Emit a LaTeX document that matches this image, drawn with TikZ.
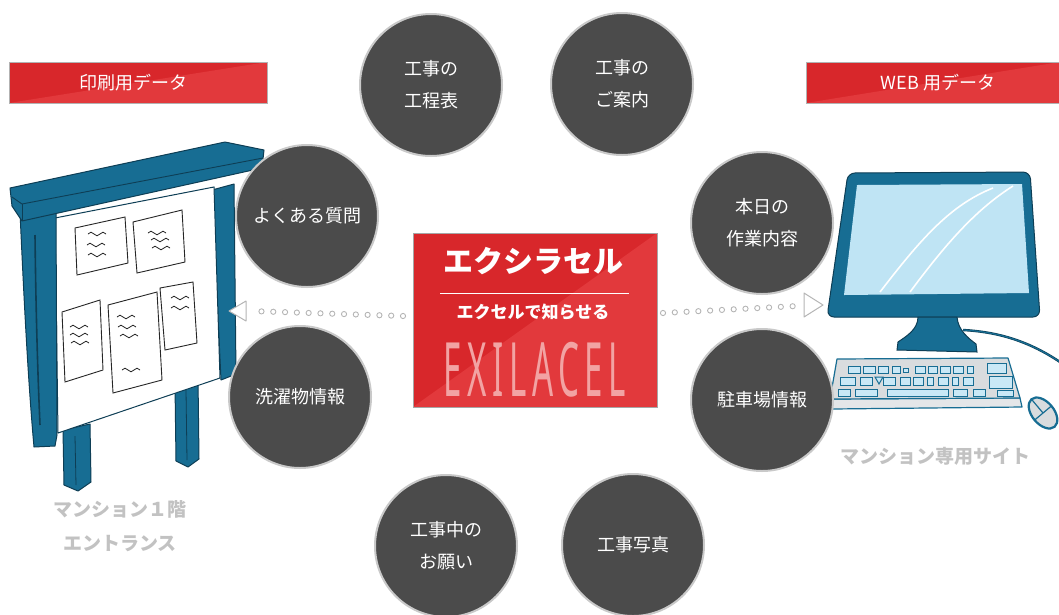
\documentclass[tikz,border=0pt]{standalone}
\usepackage{fontspec}
\newfontfamily\jp{Noto Sans CJK JP}
\newfontfamily\lat{Noto Sans}
\usetikzlibrary{calc,decorations.markings}
\definecolor{circ}{HTML}{4B4B4B}
\definecolor{ring}{HTML}{C9C9C9}
\definecolor{redA}{HTML}{D8272B}
\definecolor{redB}{HTML}{E2393C}
\definecolor{blue}{HTML}{176D93}
\definecolor{dkblue}{HTML}{0E3E55}
\definecolor{screen}{HTML}{BFE4F4}
\definecolor{keyc}{HTML}{C9E8F6}
\definecolor{kbd}{HTML}{D9DCDE}
\definecolor{graytxt}{HTML}{C2C2C2}
\definecolor{dotc}{HTML}{B5B5B5}
\definecolor{logo}{HTML}{F2A3A3}
\newcommand\squig[1]{\draw[ink] (#1) sin ++(3,-1.8) cos ++(3,1.8) sin ++(3,1.8) cos ++(3,-1.8) sin ++(3,-1.8) cos ++(3,1.8);}
\begin{document}
\begin{tikzpicture}[x=1pt,y=-1pt,
  bubble/.style={circle, fill=circ, draw=ring, line width=2pt, minimum size=142pt,
    inner sep=0pt, text=white, align=center, font=\jp\fontsize{18}{32}\selectfont},
  redfill/.style={fill=redA, path picture={\fill[redB] (path picture bounding box.south west)
    -- (path picture bounding box.north east) -- (path picture bounding box.south east) -- cycle;}},
  banner/.style={redfill, draw=black!30, line width=0.6pt, minimum height=41pt, inner sep=0pt,
    text=white, font=\jp\fontsize{18}{20}\selectfont},
  graylabel/.style={text=graytxt, font=\jp\bfseries\fontsize{19}{34}\selectfont, align=center},
  dotline/.style={decoration={markings, mark=between positions 0 and 1 step 11.8pt with
    {\draw[dotc, line width=0.9pt] (0,0) circle (2.6pt);}}, decorate},
  tip/.style={draw=dotc, fill=white, line width=1pt, line join=round},
  post/.style={fill=blue, draw=dkblue, line width=1pt, line join=round},
  paper/.style={fill=white, draw=black!85, line width=0.9pt},
  ink/.style={line width=0.8pt, draw=black!85},
  keyst/.style={fill=keyc, draw=blue, line width=1pt},
]
\useasboundingbox (0,0) rectangle (1059,614);

% ---------- banners ----------
\node[banner, minimum width=258pt] (bl) at (138,82.5) {};
\node[text=white, font=\jp\fontsize{18}{20}\selectfont] (blt) at (133,83) {印刷用データ};
\node[banner, minimum width=254pt] (br) at (933,82.5) {};
\node[text=white, font=\jp\fontsize{18}{20}\selectfont] (brt) at (938,83) {WEB 用データ};

% ---------- bulletin board ----------
\draw[post] (212,190) -- (234,184) -- (236,374) -- (221,380) -- cycle;
\draw[post] (175,384) -- (198,378) -- (199,459) -- (188,467) -- (176,461) -- cycle;
\draw[dkblue, line width=0.8pt] (186,390) -- (187,460);
\draw[post] (63,430) -- (90,424) -- (91,482) -- (78,491) -- (64,485) -- cycle;
\draw[dkblue, line width=0.8pt] (75,436) -- (76,485);
\draw[fill=white, draw=dkblue, line width=1pt] (55,218) -- (214,187) -- (220,378) -- (58,433) -- cycle;
\draw[post] (20,212) .. controls (24,300) and (28,380) .. (34,447) -- (55,446) -- (57,435) -- (56,208) -- cycle;
\draw[dkblue, line width=1.6pt] (35,235) .. controls (36,320) and (38,380) .. (40,425);
% roof slab
\draw[post] (10,188) -- (225,142) -- (264,150) -- (262,168) -- (22,221) -- (12,206) -- cycle;
\draw[dkblue, line width=0.9pt] (12,197) -- (22,204) -- (263,158);
\draw[dkblue, line width=0.9pt] (22,204) -- (22,221);
% papers
\draw[paper] (75,228) -- (125,217) -- (128,263) -- (77,275) -- cycle;
\draw[paper] (133,222) -- (182,210) -- (185,262) -- (137,273) -- cycle;
\draw[paper] (62,312) -- (100,300) -- (103,370) -- (65,382) -- cycle;
\draw[paper] (108,305) -- (157,292) -- (162,380) -- (113,393) -- cycle;
\draw[paper] (160,288) -- (193,282) -- (197,343) -- (165,350) -- cycle;
\squig{88,234} \squig{87,245} \squig{88,255}
\squig{148,233} \squig{151,240} \squig{152,248}
\squig{70,327} \squig{70,335} \squig{71,343}
\squig{117,317} \squig{118,327} \squig{120,336} \squig{122,370}
\squig{171,298} \squig{171,308}

% ---------- computer ----------
\draw[fill=blue, draw=dkblue, line width=1pt, rounded corners=7pt]
  (848,173) -- (1030,172) -- (1040,317) -- (827,317) -- cycle;
\fill[screen] (857,185) -- (1022,184) -- (1029,293) -- (844,295) -- cycle;
\draw[white, line width=1.6pt] (880,292) .. controls (920,240) and (950,205) .. (993,188);
\draw[white, line width=1.6pt] (910,292) .. controls (945,245) and (975,210) .. (1013,186);
\draw[dkblue, line width=2.4pt] (963,330) .. controls (1000,332) and (1030,342) .. (1060,362);
\draw[blue, line width=1.2pt] (963,330) .. controls (1000,332) and (1030,342) .. (1060,362);
\draw[fill=blue, draw=dkblue, line width=1pt]
  (918,317) .. controls (918,330) and (905,337) .. (898,342) -- (897,350) -- (977,352)
  -- (976,344) .. controls (968,338) and (958,330) .. (957,317) -- cycle;
% keyboard
\draw[fill=kbd!70!white, draw=blue, line width=1.2pt, line join=round]
  (830,399) -- (1020,398) -- (1022,407) -- (832,409) -- cycle;
\draw[fill=kbd, draw=blue, line width=1.2pt, line join=round]
  (837,359) -- (1008,358) -- (1020,398) -- (830,399) -- cycle;
\foreach \a/\b in {848/860,863/875,878/888,892/900,915/925,928/937,940/950,953/963,967/973}
  \draw[keyst] (\a,366) rectangle (\b,373);
\draw[keyst] (903,368) rectangle (908,372);
\foreach \a/\b in {840/855,860/872,883/895,900/910,913/923,927/933,938/948,952/958,963/973}
  \draw[keyst] (\a,377) rectangle (\b,385);
\draw[keyst] (875,377) -- (883,377) -- (879,384) -- cycle;
\foreach \a/\b in {838/850,855/877,887/948,953/967,973/985}
  \draw[keyst] (\a,389) rectangle (\b,396);
\draw[keyst] (987,363) rectangle (1006,373);
\draw[keyst] (989,376) rectangle (1012,388);
\draw[keyst] (997,390) rectangle (1013,396);
% mouse
\begin{scope}[shift={(1043,413)}, rotate=-50]
  \draw[fill=kbd, draw=blue, line width=2.2pt] (0,0) ellipse (18pt and 11pt);
  \draw[blue, line width=1.2pt] (-18,0) -- (0,0);
  \draw[blue, line width=1.2pt] (0,-11) -- (0,11);
\end{scope}

% ---------- centre box ----------
\node[redfill, draw=black!35, line width=0.6pt, minimum width=244pt, minimum height=174pt,
  inner sep=0pt] (ex) at (535,320) {};
\node[text=white, font=\jp\bfseries\fontsize{30}{32}\selectfont] (ext) at (533,261) {エクシラセル};
\draw[white, line width=0.8pt] (440,293) -- (629,293);
\node[text=white, font=\jp\bfseries\fontsize{17}{20}\selectfont] (exs) at (533,312) {エクセルで知らせる};
\node[text=logo, font=\lat\fontsize{75}{80}\selectfont, inner sep=0pt] (exl) at (535,370)
  {\scalebox{0.44}[1]{E\,X\,I\,L\,A\,C\,E\,L}};

% ---------- bubbles ----------
\node[bubble] (c1) at (431,85) {工事の\\工程表};
\node[bubble] (c2) at (622,84) {工事の\\ご案内};
\node[bubble] (c3) at (307,216) {よくある質問};
\node[bubble] (c4) at (300,397) {洗濯物情報};
\node[bubble] (c5) at (762,223) {本日の\\作業内容};
\node[bubble] (c6) at (762,400) {駐車場情報};
\node[bubble] (c7) at (446,546) {工事中の\\お願い};
\node[bubble] (c8) at (633,545) {工事写真};

% ---------- dotted arrows ----------
\coordinate (ls) at (403,316);
\coordinate (le) at (250,311);
\coordinate (lt) at (229,311);
\path[dotline] (ls) -- (le);
\draw[tip] (lt) -- ++(17,-10) -- ++(0,20) -- cycle;
\coordinate (rs) at (663,313);
\coordinate (re) at (797,306);
\coordinate (rt) at (823,305);
\path[dotline] (rs) -- (re);
\draw[tip] (rt) -- ++(-19,-12) -- ++(0,24) -- cycle;

% ---------- captions ----------
\node[graylabel] (capl) at (120,526) {マンション１階\\エントランス};
\node[graylabel] (capr) at (935,456) {マンション専用サイト};
\end{tikzpicture}
\end{document}
